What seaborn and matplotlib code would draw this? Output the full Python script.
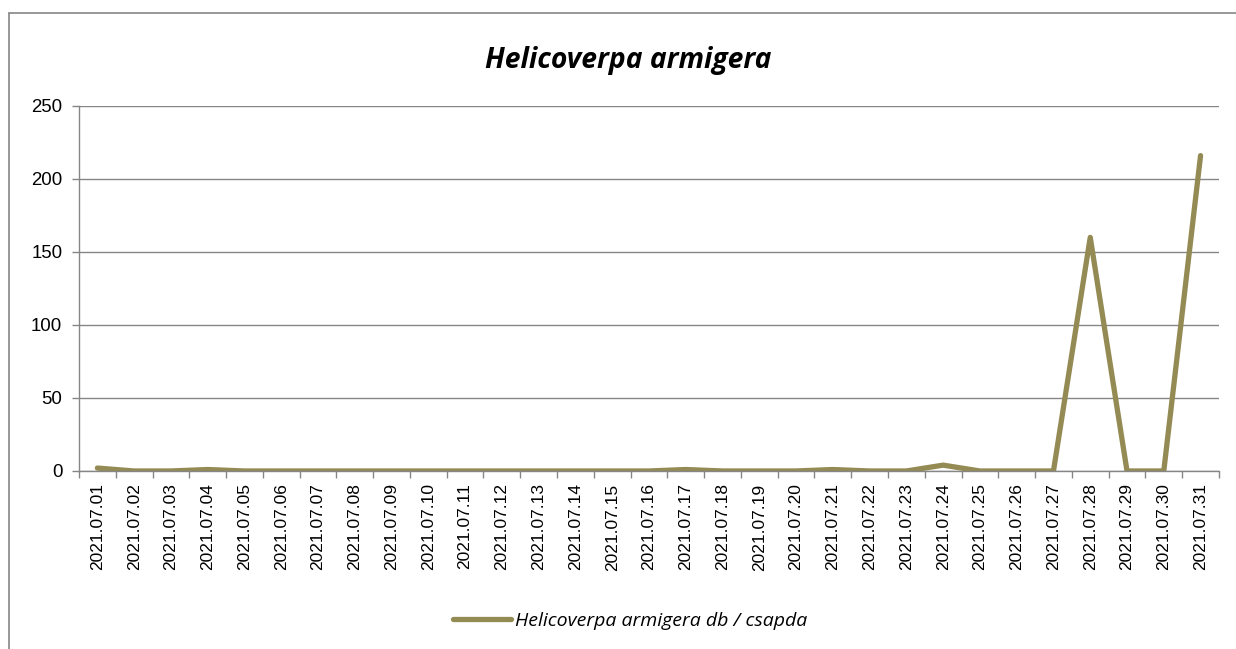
import numpy as np
import pandas as pd
import matplotlib.pyplot as plt
import seaborn as sns
from matplotlib.lines import Line2D

sns.set_theme()
sns.set_style("white")
plt.rcParams['font.family'] = ['Liberation Sans', 'DejaVu Sans']
plt.rcParams['text.color'] = 'black'
plt.rcParams['xtick.color'] = 'black'
plt.rcParams['ytick.color'] = 'black'

# Daily trap catches, July 2021
dates = ["2021.07.%02d" % d for d in range(1, 32)]
counts = [2, 0, 0, 1, 0, 0, 0, 0, 0, 0, 0, 0, 0, 0, 0, 0, 1, 0, 0, 0,
          1, 0, 0, 4, 0, 0, 0, 160, 0, 0, 216]
series_name = "Helicoverpa armigera db / csapda"
title = "Helicoverpa armigera"
yticks = [0, 50, 100, 150, 200, 250]

data = pd.DataFrame({"date": dates, "count": counts})

line_col = "#948A54"
grey = "#868686"

fig = plt.figure(figsize=(12.36, 6.49), dpi=100)
ax = fig.add_axes([0.0639, 0.2743, 0.9223, 0.5624])

sns.lineplot(x="date", y="count", data=data, ax=ax, color=line_col,
             linewidth=3.8, sort=False, solid_joinstyle="round",
             solid_capstyle="round")

ax.set_xlim(-0.5, len(dates) - 0.5)
ax.set_ylim(0, 250)
ax.set_yticks(yticks)
ax.set_yticklabels([str(v) for v in yticks], fontsize=13.4)
ax.set_xticks(range(len(dates)))
ax.set_xticklabels(dates, rotation=90, fontsize=12.5)
ax.set_xticks(np.arange(-0.5, len(dates), 1), minor=True)
ax.tick_params(axis="x", which="major", length=0, pad=9, labelcolor="black")
ax.tick_params(axis="x", which="minor", length=5, color=grey, width=1, direction="out")
ax.tick_params(axis="y", which="major", length=5, color=grey, width=1, direction="out",
               pad=7, labelcolor="black")
ax.xaxis.set_ticks_position("bottom")
ax.yaxis.set_ticks_position("left")

ax.grid(axis="y", color=grey, linewidth=1)
ax.grid(axis="x", visible=False)
ax.set_axisbelow(True)
for s in ["top", "right"]:
    ax.spines[s].set_visible(False)
for s in ["left", "bottom"]:
    ax.spines[s].set_color(grey)
    ax.spines[s].set_linewidth(1)
ax.set_xlabel("")
ax.set_ylabel("")

fig.text(0.508, 0.907, title, ha="center", va="center", fontsize=20.3,
         fontweight="bold", fontstyle="italic", family=["Open Sans", "DejaVu Sans"])

handle = Line2D([0], [0], color=line_col, linewidth=3.8, solid_capstyle="round")
fig.legend([handle], [series_name], loc="center", bbox_to_anchor=(0.51, 0.043),
           frameon=False, handlelength=3.0, handletextpad=0.2,
           prop={"size": 14, "style": "italic", "family": ["Open Sans", "DejaVu Sans"]})

# outer chart border (cropped at right and bottom)
fig.add_artist(Line2D([9 / 1236, 1.0], [1 - 13 / 649, 1 - 13 / 649],
                      transform=fig.transFigure, color=grey, linewidth=1.2))
fig.add_artist(Line2D([9 / 1236, 9 / 1236], [0.0, 1 - 13 / 649],
                      transform=fig.transFigure, color=grey, linewidth=1.2))

plt.savefig("out.png", dpi=100)
